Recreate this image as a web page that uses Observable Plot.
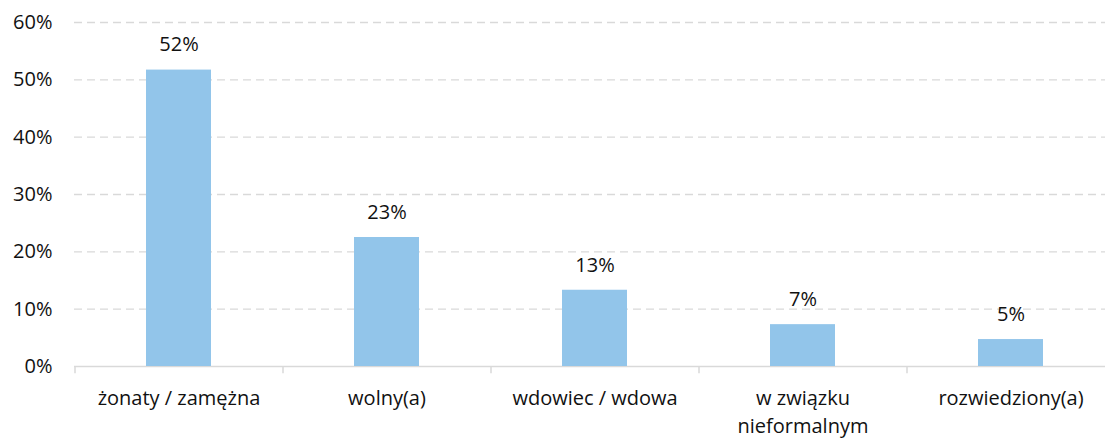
<!DOCTYPE html>
<html>
<head>
<meta charset="utf-8">
<script src="https://cdn.jsdelivr.net/npm/d3@7"></script>
<script src="https://cdn.jsdelivr.net/npm/@observablehq/plot@0.6"></script>
<style>
  html, body { margin: 0; padding: 0; background: #fff; overflow: hidden; }
  #chart { width: 1105px; height: 438px; overflow: hidden; }
  #chart svg { max-width: none !important; }
</style>
</head>
<body>
<div id="chart"></div>
<script>
const categories = ["żonaty / zamężna", "wolny(a)", "wdowiec / wdowa", "w związku nieformalnym", "rozwiedziony(a)"];
const tickLabels = ["żonaty / zamężna", "wolny(a)", "wdowiec / wdowa", "w związku\nnieformalnym", "rozwiedziony(a)"];
const values = [0.517, 0.225, 0.133, 0.073, 0.047];
const valueLabels = ["52%", "23%", "13%", "7%", "5%"];
const yTicks = [0, 0.1, 0.2, 0.3, 0.4, 0.5, 0.6];

const data = categories.map((c, i) => ({category: c, value: values[i], label: valueLabels[i]}));
const labelOf = new Map(categories.map((c, i) => [c, tickLabels[i]]));

const font = "'Open Sans', sans-serif";
const gridColor = "#d9d9d9";
const barColor = "#92C5EA";
const textColor = "#111111";
const fs = 20;

const chart = Plot.plot({
  width: 1114,
  height: 438,
  marginLeft: 74,
  marginRight: 0,
  marginTop: 22,
  marginBottom: 72,
  style: {fontFamily: font, fontSize: fs + "px", color: textColor, background: "#fff", maxWidth: "none"},
  x: {domain: categories, paddingInner: 0.6875, paddingOuter: 0.34375, axis: null, label: null},
  y: {domain: [0, 0.6], axis: null, label: null},
  marks: [
    Plot.ruleY(yTicks.filter(d => d > 0), {stroke: gridColor, strokeWidth: 1.3, strokeDasharray: "8,5"}),
    Plot.ruleY([0], {stroke: gridColor, strokeWidth: 1.5}),
    Plot.ruleX(categories, {x: d => d, dx: -104, y1: 0, y2: -0.0125, stroke: gridColor, strokeWidth: 1.5}),
    Plot.barY(data, {x: "category", y: "value", fill: barColor}),
    Plot.text(data, {x: "category", y: "value", text: "label", dy: -25, lineAnchor: "middle", fill: textColor, fontSize: fs}),
    Plot.axisY(yTicks, {tickSize: 0, tickPadding: 22, tickFormat: d => Math.round(d * 100) + "%", fontSize: fs, fill: textColor, label: null}),
    Plot.axisX({tickSize: 0, tickPadding: 18, tickFormat: d => labelOf.get(d), fontSize: fs, lineHeight: 1.42, fill: textColor, label: null})
  ]
});
document.getElementById("chart").appendChild(chart);
</script>
</body>
</html>
